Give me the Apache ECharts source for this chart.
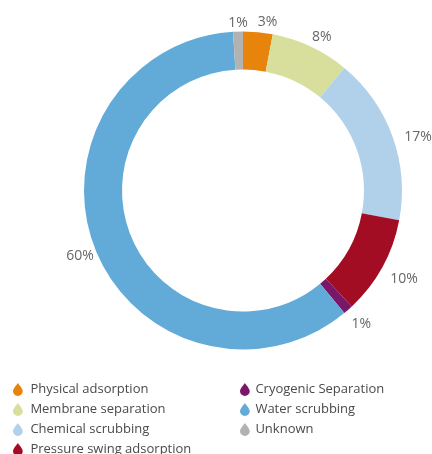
<!DOCTYPE html>
<html>
<head>
<meta charset="utf-8">
<script src="https://cdn.jsdelivr.net/npm/echarts@6/dist/echarts.min.js"></script>
<style>
  html, body { margin: 0; padding: 0; background: #fff; }
  #chart { width: 432px; height: 454px; }
</style>
</head>
<body>
<div id="chart"></div>
<script>
// Biogas upgrading technologies, share of plants (%)
const categories = [
  'Physical adsorption',
  'Membrane separation',
  'Chemical scrubbing',
  'Pressure swing adsorption',
  'Cryogenic Separation',
  'Water scrubbing',
  'Unknown'
];
const shares = [3, 8, 17, 10, 1, 60, 1];
const colors = ['#E8830C', '#D8DE9B', '#B1D1EA', '#A30D24', '#7A1768', '#62ABD9', '#B2B2B2'];

const dropIcon = 'path://M6,0 C4,3 0,7 0,10 A6,6 0 0 0 12,10 C12,7 8,3 6,0 Z';
const font = 'Open Sans';

const chart = echarts.init(document.getElementById('chart'), null, { renderer: 'canvas' });

// small nudges so the percentage labels sit where they read best
const labelNudge = {
  'Physical adsorption': [-6, -2],
  'Membrane separation': [-7, -2],
  'Chemical scrubbing': [-1, 3],
  'Pressure swing adsorption': [-4, 8],
  'Cryogenic Separation': [-7, 8],
  'Water scrubbing': [11, 4],
  'Unknown': [15, -1]
};

const pieData = categories.map((name, i) => {
  const item = { name, value: shares[i], itemStyle: { color: colors[i] } };
  if (labelNudge[name]) item.label = { offset: labelNudge[name] };
  return item;
});

const legendBase = {
  orient: 'vertical',
  icon: dropIcon,
  itemWidth: 11,
  itemHeight: 13,
  itemGap: 7,
  top: 383,
  height: 90,
  padding: 0,
  selectedMode: false
};
const legendText = { fontFamily: font, fontSize: 13, color: '#4a4a4a' };

chart.setOption({
  animation: false,
  backgroundColor: '#fff',
  legend: [
    Object.assign({}, legendBase, {
      left: 13, data: categories.slice(0, 4),
      textStyle: Object.assign({ padding: [0, 0, 0, 2] }, legendText)
    }),
    Object.assign({}, legendBase, {
      left: 240, data: categories.slice(4),
      textStyle: Object.assign({ padding: [0, 0, 0, 0] }, legendText)
    })
  ],
  series: [{
    type: 'pie',
    center: [243, 190.5],
    radius: [121, 159],
    startAngle: 90,
    clockwise: true,
    avoidLabelOverlap: false,
    label: {
      show: true,
      position: 'outside',
      formatter: '{c}%',
      fontFamily: font,
      fontSize: 14,
      color: '#666'
    },
    labelLine: { show: false, length: 8, length2: 0 },
    emphasis: { disabled: true },
    data: pieData
  }]
});
</script>
</body>
</html>
